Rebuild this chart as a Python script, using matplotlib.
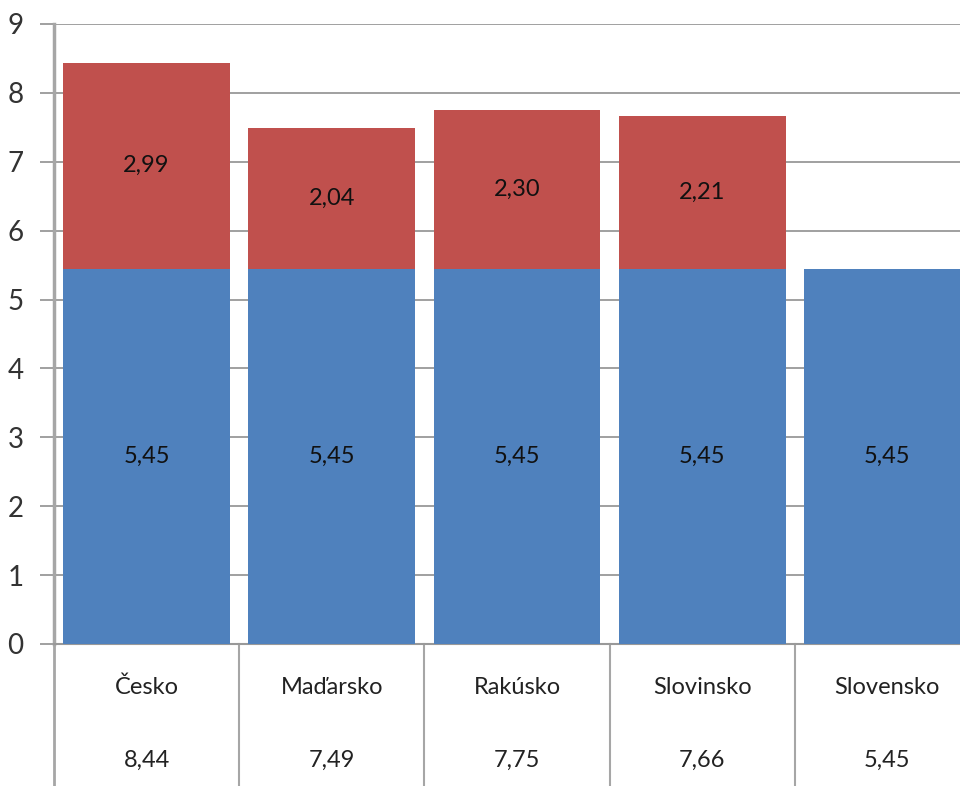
import matplotlib
matplotlib.use('Agg')
import matplotlib.pyplot as plt

countries = ['Česko', 'Maďarsko', 'Rakúsko', 'Slovinsko', 'Slovensko']
base = [5.45, 5.45, 5.45, 5.45, 5.45]
extra = [2.99, 2.04, 2.30, 2.21, 0.0]
totals = [8.44, 7.49, 7.75, 7.66, 5.45]

BLUE = '#4F81BD'
RED = '#C0504D'
GRID = '#999999'


def fmt(v):
    return f'{v:.2f}'.replace('.', ',')


plt.rcParams['font.family'] = ['Lato', 'DejaVu Sans']

fig = plt.figure(figsize=(9.6, 7.86), dpi=100)
# plot area runs past the right edge, like the cropped original
ax = fig.add_axes([54 / 960, 142 / 786, 926 / 960, 620 / 786])

x = list(range(len(countries)))
ax.bar(x, base, width=0.9, color=BLUE, zorder=3)
ax.bar(x, extra, width=0.9, bottom=base, color=RED, zorder=3)

for i in x:
    ax.text(i, base[i] / 2, fmt(base[i]), ha='center', va='center',
            fontsize=17, color='#111111', zorder=4)
    if extra[i] > 0:
        ax.text(i, base[i] + extra[i] / 2, fmt(extra[i]), ha='center',
                va='center', fontsize=17, color='#111111', zorder=4)

ax.set_xlim(-0.5, len(countries) - 0.5)
ax.set_ylim(0, 9)
ax.set_yticks(range(10))
ax.set_xticks([])
ax.yaxis.grid(True, color=GRID, linewidth=1.3, zorder=0)
ax.tick_params(axis='y', length=10, width=1.3, color=GRID, pad=12,
               labelsize=20, labelcolor='#333333')

for s in ['top', 'right']:
    ax.spines[s].set_visible(False)
ax.spines['left'].set_color('#A6A6A6')
ax.spines['left'].set_linewidth(2.5)
ax.spines['bottom'].set_color(GRID)
ax.spines['bottom'].set_linewidth(1.5)

# data table under the axis
trans = ax.get_xaxis_transform()
for i in x:
    ax.text(i, -43 / 620, countries[i], transform=trans, ha='center',
            va='center', fontsize=17, color='#222222')
    ax.text(i, -116 / 620, fmt(totals[i]), transform=trans, ha='center',
            va='center', fontsize=17, color='#222222')
for k in range(len(countries) + 1):
    ax.plot([k - 0.5, k - 0.5], [0, -0.3], transform=trans, color='#A6A6A6',
            linewidth=2 if k == 0 else 1.5, clip_on=False)

fig.savefig('out.png', dpi=100)
